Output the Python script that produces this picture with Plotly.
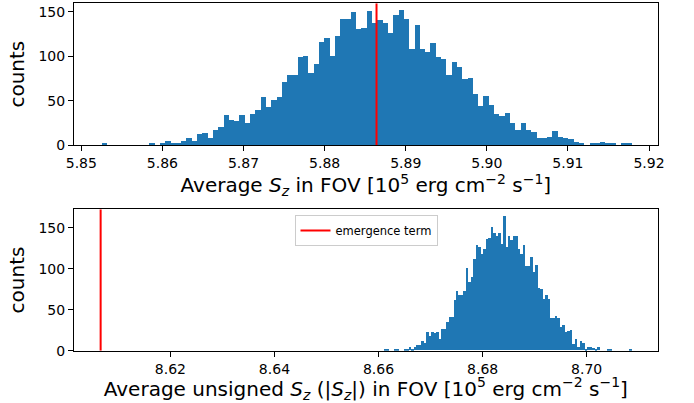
import plotly.graph_objects as go

# ---- data ----
top_bin_start = 5.8525
top_bin_width = 0.000654
top_counts = [1, 0, 0, 0, 0, 0, 0, 0, 0, 1, 0, 1, 4, 2, 2, 4, 7, 4, 12, 13,
              8, 17, 20, 33, 28, 27, 34, 25, 35, 39, 54, 42, 50, 54, 71, 79, 78, 99, 100, 81,
              91, 116, 120, 100, 123, 142, 142, 149, 130, 131, 151, 137, 140, 137, 126, 146, 152, 142, 108, 135,
              108, 104, 114, 99, 96, 78, 93, 87, 74, 75, 57, 44, 55, 45, 35, 32, 36, 24, 17, 24,
              16, 14, 8, 8, 9, 15, 9, 7, 6, 3, 1, 0, 2, 2, 3, 1, 1, 0, 1, 2]
top_line = 5.8864

bot_bin_start = 8.6611
bot_bin_width = 0.0004756
bot_counts = [1, 1, 0, 0, 1, 1, 0, 0, 2, 1, 4, 2, 4, 7, 6, 11, 9, 23, 17, 22,
              21, 22, 14, 26, 26, 35, 41, 41, 61, 73, 67, 67, 72, 100, 83, 90, 112, 129, 126, 118,
              124, 136, 137, 150, 143, 139, 143, 130, 164, 126, 140, 135, 139, 140, 124, 118, 128, 103, 103, 114,
              96, 104, 76, 75, 63, 68, 63, 40, 39, 42, 39, 28, 31, 23, 24, 25, 8, 14, 4, 11,
              9, 1, 4, 4, 3, 2, 4, 0, 0, 0, 1, 1, 0, 0, 0, 0, 0, 0, 0, 1]
bot_line = 8.6066
legend_label = "emergence term"

top_xticks = [5.85, 5.86, 5.87, 5.88, 5.89, 5.90, 5.91, 5.92]
bot_xticks = [8.62, 8.64, 8.66, 8.68, 8.70]
yticks = [0, 50, 100, 150]

top_xrange = [5.8491, 5.92107]
top_yrange = [0, 159.6]
bot_xrange = [8.60148, 8.71365]
bot_yrange = [0, 172.4]

BLUE = "#1f77b4"
RED = "#ff0000"
FONT = "DejaVu Sans"

top_centers = [top_bin_start + (i + 0.5) * top_bin_width for i in range(len(top_counts))]
bot_centers = [bot_bin_start + (i + 0.5) * bot_bin_width for i in range(len(bot_counts))]

fig = go.Figure()
fig.add_trace(go.Bar(x=top_centers, y=top_counts, width=top_bin_width,
                     marker=dict(color=BLUE, line=dict(width=0)),
                     xaxis="x", yaxis="y", showlegend=False))
fig.add_trace(go.Scatter(x=[top_line, top_line], y=[0, top_yrange[1]], mode="lines",
                         line=dict(color=RED, width=2), xaxis="x", yaxis="y",
                         showlegend=False))
fig.add_trace(go.Bar(x=bot_centers, y=bot_counts, width=bot_bin_width,
                     marker=dict(color=BLUE, line=dict(width=0)),
                     xaxis="x2", yaxis="y2", showlegend=False))
fig.add_trace(go.Scatter(x=[bot_line, bot_line], y=[0, bot_yrange[1]], mode="lines",
                         line=dict(color=RED, width=2), xaxis="x2", yaxis="y2",
                         name=legend_label, showlegend=True))

axis_common = dict(showline=True, linecolor="black", linewidth=1.1, mirror=True,
                   ticks="outside", ticklen=5, tickwidth=1.1, tickcolor="black",
                   showgrid=False, zeroline=False, automargin=False,
                   tickfont=dict(family=FONT, size=14, color="black"))

xlabel_top = "Average <i>S</i><sub><i>z</i></sub> in FOV [10<sup>5</sup> erg cm<sup>\u22122</sup> s<sup>\u22121</sup>]"
xlabel_bot = ("Average unsigned <i>S</i><sub><i>z</i></sub> (|<i>S</i><sub><i>z</i></sub>|) in FOV "
              "[10<sup>5</sup> erg cm<sup>\u22122</sup> s<sup>\u22121</sup>]")

fig.update_layout(
    width=694, height=403,
    margin=dict(l=0, r=0, t=0, b=0),
    paper_bgcolor="white", plot_bgcolor="white",
    bargap=0,
    font=dict(family=FONT, color="black"),
    xaxis=dict(domain=[74 / 694, 657.7 / 694], anchor="y", range=top_xrange,
               tickvals=top_xticks, ticktext=[f"{v:.2f}" for v in top_xticks],
               title=dict(text=xlabel_top, font=dict(family=FONT, size=20), standoff=7),
               **axis_common),
    yaxis=dict(domain=[1 - 145 / 403, 1 - 3.3 / 403], anchor="x", range=top_yrange,
               tickvals=yticks,
               title=dict(text="counts", font=dict(family=FONT, size=20), standoff=8),
               **axis_common),
    xaxis2=dict(domain=[74 / 694, 657.7 / 694], anchor="y2", range=bot_xrange,
                tickvals=bot_xticks, ticktext=[f"{v:.2f}" for v in bot_xticks],
                title=dict(text=xlabel_bot, font=dict(family=FONT, size=20), standoff=7),
                **axis_common),
    yaxis2=dict(domain=[1 - 350.7 / 403, 1 - 209.3 / 403], anchor="x2", range=bot_yrange,
                tickvals=yticks,
                title=dict(text="counts", font=dict(family=FONT, size=20), standoff=8),
                **axis_common),
    legend=dict(x=366 / 694, y=1 - 215 / 403, xanchor="center", yanchor="top",
                bgcolor="rgba(255,255,255,0.8)", bordercolor="#cccccc", borderwidth=1,
                font=dict(family=FONT, size=11.5, color="black")),
)

fig.write_html("out.html")
